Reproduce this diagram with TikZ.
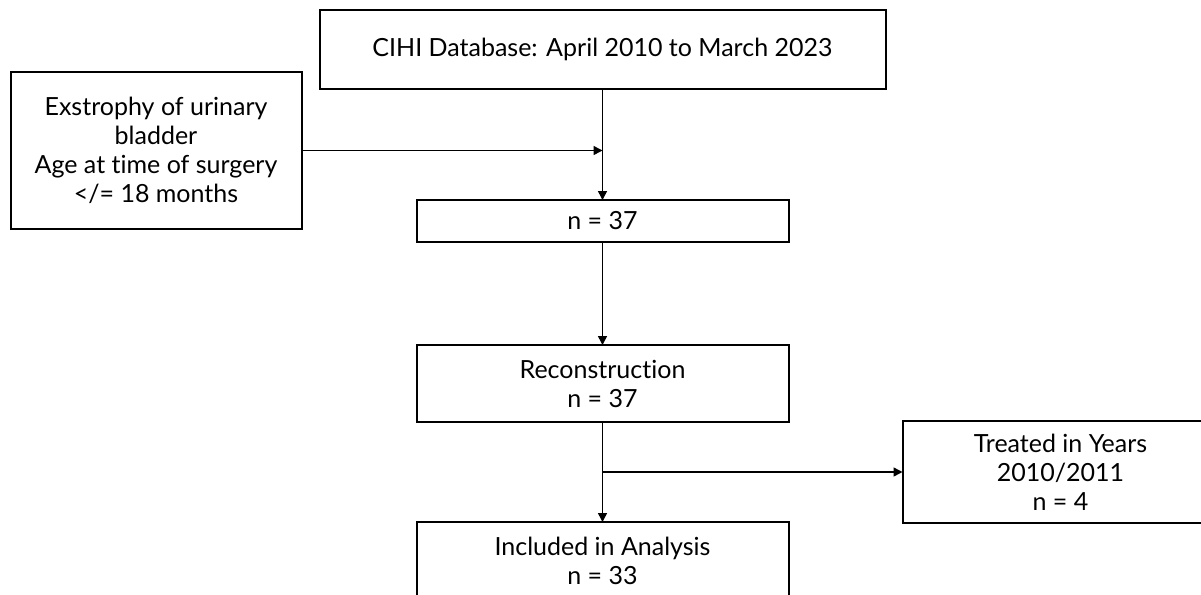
\documentclass[tikz,border=0pt]{standalone}
\usepackage{fontspec}
\setmainfont{Lato}[Ligatures=NoCommon]
\usetikzlibrary{
    arrows.meta,
    positioning
}

\begin{document}
\begin{tikzpicture}[
    x=0.5pt,
    y=-0.5pt,
    flowbox/.style={
        draw=black,
        line width=1pt,
        align=center,
        inner sep=0pt,
        outer sep=0pt,
        font=\fontsize{12.5}{14.5}\selectfont
    },
    flowarrow/.style={
        -{Triangle[length=4.5pt,width=4.5pt]},
        line width=0.75pt,
        draw=black
    }
]
\useasboundingbox (0,0) rectangle (1201,595);

\node[
    flowbox,
    minimum width=283pt,
    minimum height=39.5pt
] (database) at (602.5,49.5) {CIHI Database: April 2010 to March 2023};

\node[
    flowbox,
    minimum width=145.5pt,
    minimum height=78.5pt,
    below left=31pt and 9pt of database.north west
] (criteria) {
    Exstrophy of urinary\\
    bladder\\
    Age at time of surgery\\
    </= 18 months
};

\node[
    flowbox,
    minimum width=186pt,
    minimum height=21pt,
    below=55.5pt of database
] (cohort) {n = 37};

\node[
    flowbox,
    minimum width=186pt,
    minimum height=38.5pt,
    below=51.5pt of cohort
] (recon) {
    Reconstruction\\
    n = 37
};

\node[
    flowbox,
    minimum width=186pt,
    minimum height=39pt,
    below=50pt of recon
] (included) {
    Included in Analysis\\
    n = 33
};

\node[
    flowbox,
    minimum width=158pt,
    minimum height=51pt,
    below right=-0.5pt and 57pt of recon.south east
] (treated) {
    Treated in Years\\
    2010/2011\\
    n = 4
};

\coordinate (join) at (criteria.east -| database.south);
\coordinate (split) at (recon.south |- treated.west);

\draw[flowarrow] (database) -- (cohort);
\draw[flowarrow] (criteria) -- (join);
\draw[flowarrow] (cohort) -- (recon);
\draw[flowarrow] (recon) -- (included);
\draw[flowarrow] (split) -- (treated);

\end{tikzpicture}
\end{document}
